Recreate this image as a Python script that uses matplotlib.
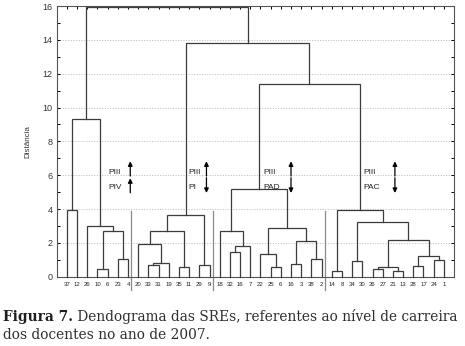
import matplotlib
matplotlib.use("Agg")
import matplotlib.pyplot as plt
from matplotlib.ticker import MultipleLocator

# ---------------- data ----------------
leaf_labels = ["37", "12", "26", "10", "6", "23", "4",
               "20", "33", "31", "19", "35", "11", "29", "9",
               "18", "32", "16", "7", "22", "25", "6", "16", "3", "38", "2",
               "14", "8", "34", "30", "36", "27", "21", "13", "28", "17", "24", "1"]

# linkage rows: (left child, right child, distance); ids < 38 are leaves (in display order),
# ids >= 38 refer to earlier rows
merge_left = [3, 5, 38, 2, 0, 42,
              8, 44, 7, 11, 46, 13, 48,
              16, 51, 15, 20, 19, 22, 24, 56, 55, 53,
              26, 28, 30, 32, 63, 34, 36, 66, 65, 62, 61,
              60, 50, 43]
merge_right = [4, 6, 39, 40, 1, 41,
               9, 10, 45, 12, 47, 14, 49,
               17, 18, 52, 21, 54, 23, 25, 57, 58, 59,
               27, 29, 31, 33, 64, 35, 37, 67, 68, 69, 70,
               71, 72, 73]
merge_height = [0.45, 1.04, 2.72, 3.01, 3.95, 9.32,
                0.70, 0.80, 1.94, 0.55, 2.70, 0.70, 3.65,
                1.48, 1.83, 2.72, 0.59, 1.32, 0.73, 1.05, 2.13, 2.86, 5.18,
                0.34, 0.91, 0.44, 0.34, 0.55, 0.65, 0.97, 1.24, 2.17, 3.23, 3.92,
                11.39, 13.79, 15.95]

group_separators = [7.25, 15.35, 26.3]
annot_top = ["PIII", "PIII", "PIII", "PIII"]
annot_bottom = ["PIV", "PI", "PAD", "PAC"]
annot_text_x = [5.1, 12.97, 20.3, 30.1]
annot_arrow_x = [7.22, 14.7, 23.0, 33.2]
annot_kind = ["upup", "updown", "updown", "updown"]

y_ticks = [0, 2, 4, 6, 8, 10, 12, 14, 16]

# ---------------- figure ----------------
W, H = 465, 346
fig = plt.figure(figsize=(W / 100, H / 100), dpi=100)
ax_l, ax_r, ax_t, ax_b = 56.7, 454.0, 6.0, 276.7
ax = fig.add_axes([ax_l / W, 1 - ax_b / H, (ax_r - ax_l) / W, (ax_b - ax_t) / H])

sans = ["Liberation Sans", "DejaVu Sans"]
line_col = "#3c3c3c"

n = len(leaf_labels)
xpos = {i: i + 1.0 for i in range(n)}
ypos = {i: 0.0 for i in range(n)}
for k, (a, b, h) in enumerate(zip(merge_left, merge_right, merge_height)):
    cid = n + k
    xa, xb = xpos[a], xpos[b]
    ya, yb = ypos[a], ypos[b]
    ax.plot([xa, xa, xb, xb], [ya, h, h, yb], color=line_col, lw=0.9,
            solid_joinstyle="miter", clip_on=False, zorder=3)
    xpos[cid] = (xa + xb) / 2
    ypos[cid] = h

ax.set_xlim(0, n + 1)
ax.set_ylim(0, 16)

# grid
for yv in y_ticks[1:-1]:
    ax.axhline(yv, color="#c4c4c4", lw=0.7, ls=(0, (1.2, 1.5)), zorder=1)

# separators
for sx in group_separators:
    ax.plot([sx, sx], [3.9, -0.8], color="#8a8a8a", lw=0.9, clip_on=False, zorder=2)

# ticks
ax.set_xticks([i + 1 for i in range(n)])
ax.set_xticklabels(leaf_labels, fontsize=4.3, family=sans, color="#222222")
ax.tick_params(axis="x", which="major", bottom=False, top=True, direction="in",
               length=2.5, width=0.7, pad=3.5, labelbottom=True)
ax.set_yticks(y_ticks)
ax.set_yticklabels([str(v) for v in y_ticks], fontsize=6.5, family=sans, color="#333333")
ax.yaxis.set_minor_locator(MultipleLocator(1))
ax.tick_params(axis="y", which="both", left=True, right=True, direction="in",
               length=2.5, width=0.7, pad=3)

for s in ax.spines.values():
    s.set_color("#555555")
    s.set_linewidth(0.8)

ax.set_ylabel("Distância", fontsize=5.8, family=sans, color="#333333")
ax.yaxis.set_label_coords(-0.065, 0.5)

# annotations
arrow_kw = dict(arrowstyle="-|>", color="black", lw=0.9, mutation_scale=6.5,
                shrinkA=0, shrinkB=0)
for tt, tb, tx, axx, kind in zip(annot_top, annot_bottom, annot_text_x,
                                 annot_arrow_x, annot_kind):
    ax.text(tx, 6.15, tt, fontsize=6, family=sans, color="#222222", va="center", ha="left")
    ax.text(tx, 5.3, tb, fontsize=6, family=sans, color="#222222", va="center", ha="left")
    ax.annotate("", xy=(axx, 6.82), xytext=(axx, 5.95), arrowprops=arrow_kw)
    if kind == "upup":
        ax.annotate("", xy=(axx, 5.82), xytext=(axx, 4.96), arrowprops=arrow_kw)
    else:
        ax.annotate("", xy=(axx, 4.95), xytext=(axx, 5.85), arrowprops=arrow_kw)

# caption
cap_bold = "Figura 7."
cap_line1 = " Dendograma das SREs, referentes ao nível de carreira"
cap_line2 = "dos docentes no ano de 2007."
serif = ["DejaVu Serif"]
renderer = fig.canvas.get_renderer()
base = 10.0
t1 = fig.text(3 / W, 1 - 321 / H, cap_bold, fontsize=base, family=serif,
              weight="bold", color="#1e1e1e", va="baseline", ha="left")
t2 = fig.text(0, 1 - 321 / H, cap_line1, fontsize=base, family=serif,
              color="#2e2e2e", va="baseline", ha="left")
w_total = t1.get_window_extent(renderer).width + t2.get_window_extent(renderer).width
fs = base * (462 - 3) / w_total
t1.set_fontsize(fs)
t2.set_fontsize(fs)
wb = t1.get_window_extent(renderer).width
t2.set_x((3 + wb) / W)
fig.text(3 / W, 1 - 339 / H, cap_line2, fontsize=fs, family=serif,
         color="#2e2e2e", va="baseline", ha="left")

fig.savefig("out.png", dpi=100)
